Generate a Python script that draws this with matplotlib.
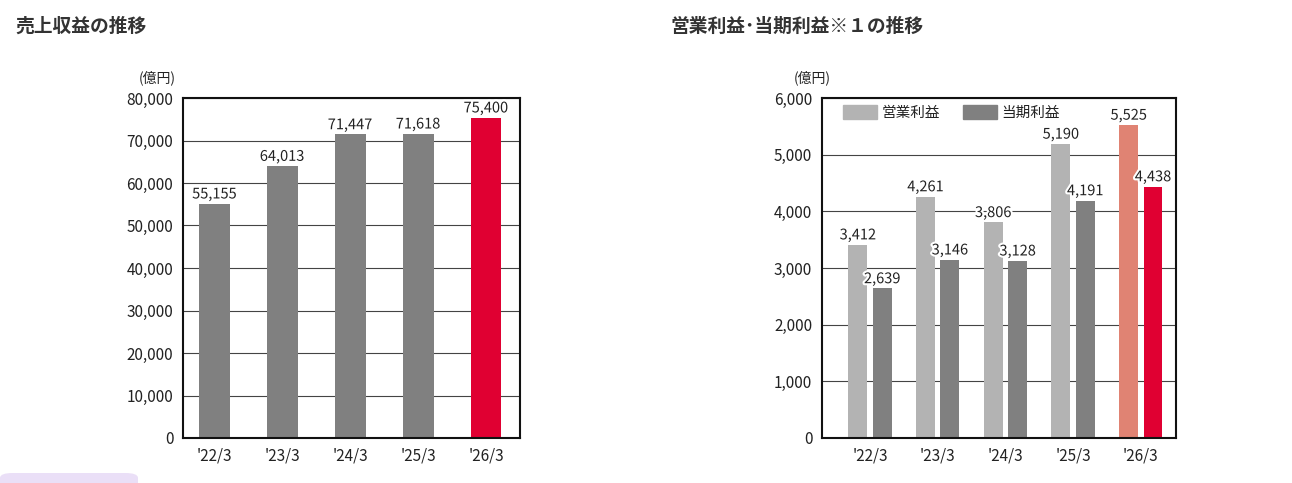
import matplotlib
matplotlib.use("Agg")
import matplotlib.pyplot as plt
import matplotlib.patheffects as pe
from matplotlib.patches import FancyBboxPatch, Patch
import numpy as np

plt.rcParams['font.family'] = ['Noto Sans CJK JP', 'DejaVu Sans']

# data
years = ["'22/3", "'23/3", "'24/3", "'25/3", "'26/3"]
revenue = [55155, 64013, 71447, 71618, 75400]
op_profit = [3412, 4261, 3806, 5190, 5525]
net_profit = [2639, 3146, 3128, 4191, 4438]

GRAY = '#808080'
LIGHT = '#b3b3b3'
RED = '#e00032'
SALMON = '#e08373'
TXT = '#222222'
glow = [pe.withStroke(linewidth=3, foreground='white')]

fig = plt.figure(figsize=(12.92, 4.83), dpi=100)
W, H = 1292, 483


def axes_px(l, t, r, b):
    return fig.add_axes([l / W, 1 - b / H, (r - l) / W, (b - t) / H])


def style(ax, ymax, step):
    ax.set_ylim(0, ymax)
    ax.set_yticks(np.arange(0, ymax + 1, step))
    ax.yaxis.set_major_formatter(matplotlib.ticker.FuncFormatter(lambda v, p: f'{int(v):,}'))
    ax.tick_params(length=0, labelsize=11, colors=TXT, pad=7)
    ax.grid(axis='y', color='#444444', linewidth=0.8)
    ax.set_axisbelow(True)
    for s in ax.spines.values():
        s.set_linewidth(1.5)
        s.set_color('#111111')
    ax.set_xticks(range(len(years)))
    ax.set_xticklabels(years)


# left chart: revenue
ax1 = axes_px(183, 98, 520, 438)
x = np.arange(len(years))
cols = [GRAY] * (len(years) - 1) + [RED]
ax1.bar(x, revenue, width=0.455, color=cols, zorder=2)
for xi, v in zip(x, revenue):
    ax1.text(xi, v + 500, f'{v:,}', ha='center', va='bottom', fontsize=10.5,
             color=TXT, path_effects=glow, zorder=3)
ax1.set_xlim(-0.46, 4.5)
style(ax1, 80000, 10000)
fig.text(15 / W, 1 - 26 / H, '売上収益の推移', fontsize=13.5, fontweight='bold',
         color='#333333', va='center')
fig.text(176 / W, 1 - 78 / H, '(億円)', fontsize=10, color=TXT, ha='right', va='center')

# right chart: profits
ax2 = axes_px(822, 98, 1176, 438)
w = 0.28
off = 0.18
c_op = [LIGHT] * (len(years) - 1) + [SALMON]
c_net = [GRAY] * (len(years) - 1) + [RED]
ax2.bar(x - off, op_profit, width=w, color=c_op, zorder=2)
ax2.bar(x + off, net_profit, width=w, color=c_net, zorder=2)
for xi, v in zip(x, op_profit):
    ax2.text(xi - off, v + 40, f'{v:,}', ha='center', va='bottom', fontsize=10.5,
             color=TXT, path_effects=glow, zorder=3)
for xi, v in zip(x, net_profit):
    ax2.text(xi + off, v + 40, f'{v:,}', ha='center', va='bottom', fontsize=10.5,
             color=TXT, path_effects=glow, zorder=3)
ax2.set_xlim(-0.71, 4.52)
style(ax2, 6000, 1000)
handles = [Patch(color=LIGHT, label='営業利益'), Patch(color=GRAY, label='当期利益')]
leg = ax2.legend(handles=handles, ncol=2, loc='upper left', bbox_to_anchor=(0.025, 1.015),
                 frameon=False, fontsize=10.5, handlelength=2.35, handleheight=1.15,
                 handletextpad=0.3, columnspacing=1.6, borderaxespad=0.4)
for t in leg.get_texts():
    t.set_color(TXT)
fig.text(670 / W, 1 - 26 / H, '営業利益･当期利益※１の推移', fontsize=13.5, fontweight='bold',
         color='#333333', va='center')
fig.text(831 / W, 1 - 78 / H, '(億円)', fontsize=10, color=TXT, ha='right', va='center')

# small lavender tab at the bottom left
fig.patches.append(FancyBboxPatch((0, -6 / H), 138 / W, 16 / H,
                                  boxstyle='round,pad=0,rounding_size=0.01',
                                  transform=fig.transFigure, facecolor='#eadff7',
                                  edgecolor='none'))

fig.savefig('out.png', dpi=100)
